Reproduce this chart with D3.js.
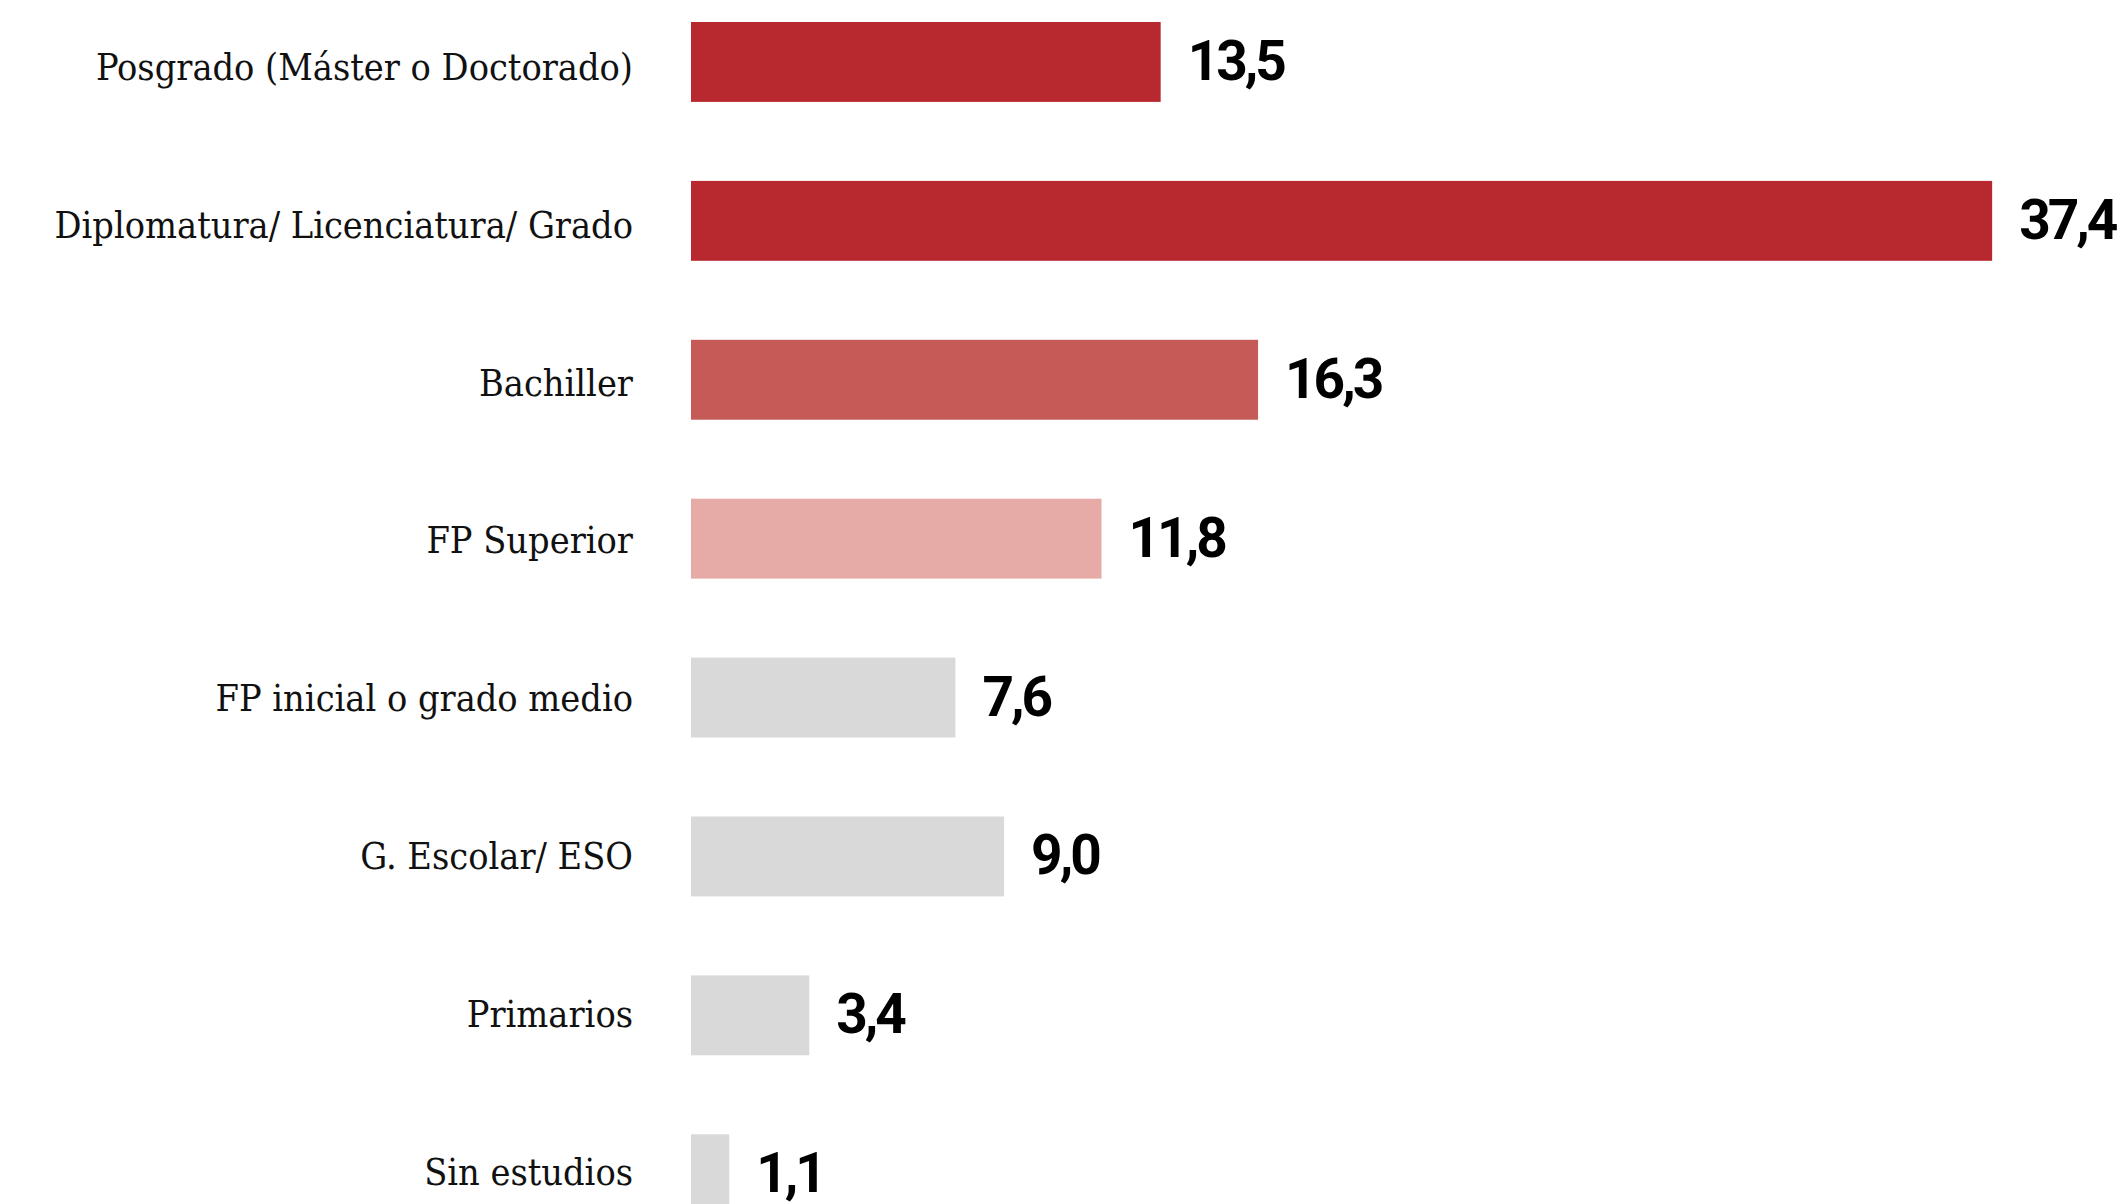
<!DOCTYPE html>
<html><head><meta charset="utf-8">
<script src="https://cdn.jsdelivr.net/npm/d3@7"></script>
<style>
html,body{margin:0;padding:0;background:#fff;overflow:hidden;}
</style></head>
<body>
<svg id="c" width="2122" height="1204"></svg>
<script>
const categories = ["Posgrado (Máster o Doctorado)","Diplomatura/ Licenciatura/ Grado","Bachiller","FP Superior","FP inicial o grado medio","G. Escolar/ ESO","Primarios","Sin estudios"];
const values = [13.5, 37.4, 16.3, 11.8, 7.6, 9.0, 3.4, 1.1];
const colors = ["#b7282f","#b7282f","#c65a56","#e6aba6","#d9d9d9","#d9d9d9","#d9d9d9","#d9d9d9"];

const svg = d3.select("#c");
const x = d3.scaleLinear().domain([0, 40]).range([691, 691 + 40*34.79]);
const y = d3.scaleBand().domain(categories).range([22, 22 + 8*158.9 - 79]).paddingInner(79/158.9).paddingOuter(0);
// category label baselines
const yt = d3.scalePoint().domain(categories).range([80, 80 + 7*157.8]);
const data = categories.map((c,i)=>({c, v: values[i], col: colors[i]}));
const fmt = v => d3.format(".1f")(v).replace(".", ",");

svg.selectAll("rect.bar").data(data).join("rect")
  .attr("class","bar")
  .attr("x", x(0)).attr("y", d=>y(d.c))
  .attr("width", d=>x(d.v)-x(0)).attr("height", y.bandwidth())
  .attr("fill", d=>d.col);

svg.selectAll("text.cat").data(data).join("text")
  .attr("class","cat")
  .attr("x", 633).attr("y", d=>yt(d.c))
  .attr("text-anchor","end")
  .attr("font-family","'DejaVu Serif', serif")
  .attr("font-stretch","condensed")
  .attr("font-size", 37.5)
  .attr("fill","#111")
  .text(d=>d.c);

svg.selectAll("text.val").data(data).join("text")
  .attr("class","val")
  .attr("x", d=>x(d.v)+27).attr("y", d=>y(d.c)+y.bandwidth()/2+18)
  .attr("font-family","Roboto, sans-serif")
  .attr("font-weight",700)
  .attr("font-size", 55)
  .attr("letter-spacing", -3)
  .attr("fill","#000")
  .text(d=>fmt(d.v));
</script>
</body></html>
